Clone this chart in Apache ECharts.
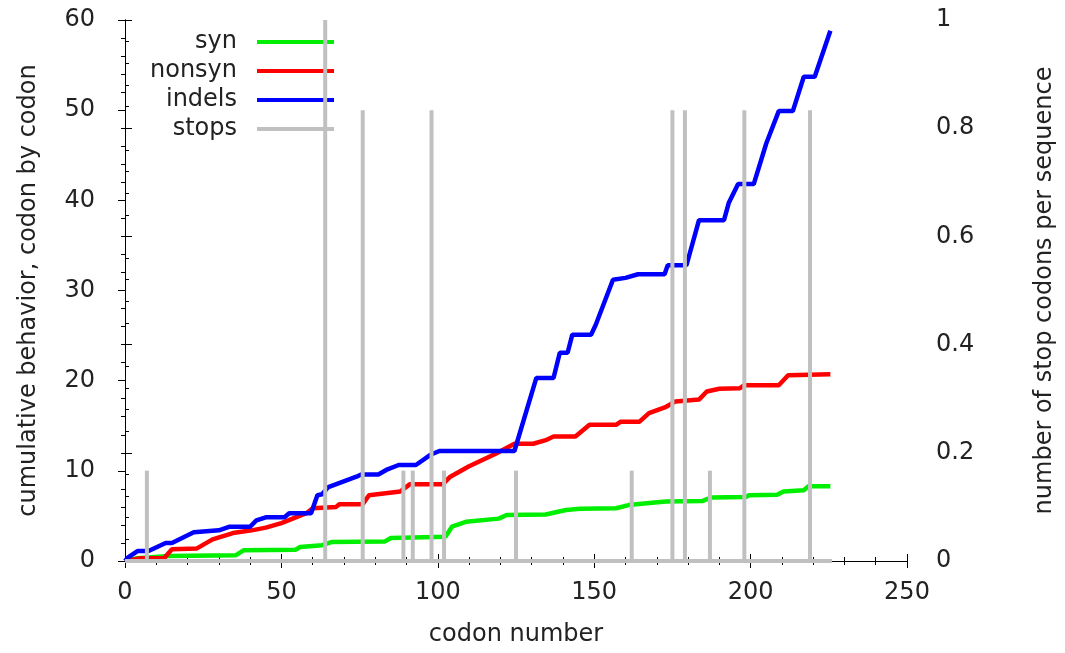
<!DOCTYPE html>
<html>
<head>
<meta charset="utf-8">
<script src="https://cdn.jsdelivr.net/npm/echarts@6/dist/echarts.min.js"></script>
<style>
  html, body { margin: 0; padding: 0; background: #fff; }
  #chart { width: 1065px; height: 653px; }
</style>
</head>
<body>
<div id="chart"></div>
<script>
// Cumulative counts along the alignment, as [codon, cumulative value] breakpoints
const syn = [
  [0, 0], [4, 0.3], [14, 0.55], [35.5, 0.65], [38, 1.2], [54.5, 1.25], [56, 1.55],
  [63, 1.75], [66, 2.1], [83, 2.15], [85, 2.55], [102.5, 2.7], [104.5, 3.8],
  [109, 4.35], [119.5, 4.7], [122, 5.1], [134.5, 5.15], [141, 5.65], [145.5, 5.8],
  [157, 5.85], [161, 6.2], [168.5, 6.45], [173, 6.6], [184.5, 6.65], [187.5, 7.05],
  [198.5, 7.1], [199.5, 7.3], [208.5, 7.35], [210.5, 7.7], [217, 7.85], [218.5, 8.3],
  [225.5, 8.3]
];
const nonsyn = [
  [0, 0], [5, 0.3], [12.5, 0.3], [15, 1.3], [23, 1.4], [28, 2.4], [34.5, 3.1],
  [40.5, 3.4], [45, 3.7], [50, 4.2], [58, 5.3], [60, 5.85], [67.5, 6.0], [68.5, 6.3],
  [76, 6.3], [78, 7.3], [88, 7.7], [91, 8.5], [101.5, 8.5], [104, 9.35], [110, 10.5],
  [118.5, 11.9], [124.5, 13.0], [130.5, 13.0], [134.5, 13.4], [137, 13.8], [144, 13.8],
  [148.5, 15.1], [157, 15.1], [158.5, 15.45], [164.5, 15.45], [167.5, 16.4],
  [173, 17.1], [176, 17.7], [183.5, 17.9], [186, 18.8], [190, 19.1], [196.5, 19.15],
  [198, 19.5], [209, 19.5], [212, 20.6], [225.5, 20.7]
];
const indels = [
  [0, 0], [1, 0.4], [4, 1.1], [7.5, 1.1], [13, 2.0], [15, 2.0], [22, 3.2], [30, 3.4],
  [33.5, 3.8], [40, 3.8], [42, 4.5], [45, 4.85], [51, 4.85], [52.5, 5.3], [59.5, 5.3],
  [61.5, 7.3], [63, 7.4], [65, 8.2], [74, 9.35], [75.5, 9.6], [81, 9.6], [83.5, 10.1],
  [87.5, 10.65], [93, 10.65], [97.5, 11.75], [100.5, 12.2], [124.5, 12.2],
  [131.5, 20.3], [137, 20.3], [139, 23.1], [141.5, 23.1], [143, 25.1], [149, 25.1],
  [150.5, 26.2], [156, 31.2], [160, 31.4], [164, 31.8], [172.5, 31.8], [173.5, 32.8],
  [179.5, 32.8], [183.5, 37.8], [191.5, 37.8], [193, 39.7], [196, 41.8], [201, 41.8],
  [205, 46.3], [209, 49.9], [213.5, 49.9], [217, 53.7], [220.5, 53.7], [225.5, 58.8]
];

// Stop codons: position and fraction of sequences carrying one
const stopCodons = [7, 64, 76, 89, 92, 98, 102, 125, 162, 175, 179, 187, 198, 219];
const stopFractions = [0.167, 1, 0.833, 0.167, 0.167, 0.833, 0.167, 0.167, 0.167,
                       0.833, 0.833, 0.167, 0.833, 0.833];
const lastCodon = 226;

const seriesNames = ['syn', 'nonsyn', 'indels', 'stops'];
const xTitle = 'codon number';
const yTitle = 'cumulative behavior, codon by codon';
const y2Title = 'number of stop codons per sequence';

const FONT = 'DejaVu Sans';
const FS = 24;
const ink = '#000';
const textColor = '#222';

const stopBars = stopCodons.map((c, i) => [c, stopFractions[i]]);

function axisBase(labelMargin) {
  return {
    axisLine: { show: true, lineStyle: { color: ink, width: 1 } },
    axisTick: { show: true, inside: false, length: 7, lineStyle: { color: ink } },
    minorTick: { show: true, splitNumber: 5, length: 4, lineStyle: { color: ink } },
    splitLine: { show: false },
    axisLabel: { color: textColor, fontFamily: FONT, fontSize: FS, margin: labelMargin },
    nameTextStyle: { color: textColor, fontFamily: FONT, fontSize: FS }
  };
}

const chart = echarts.init(document.getElementById('chart'), null, { renderer: 'canvas' });

chart.setOption({
  animation: false,
  backgroundColor: '#fff',
  grid: { left: 125, top: 20, right: 157, bottom: 92, containLabel: false },
  legend: {
    left: 150, top: 30, orient: 'vertical', align: 'right', padding: 0,
    itemGap: 5, itemWidth: 77, itemHeight: 4, selectedMode: false,
    data: seriesNames.map(n => ({ name: n, icon: 'rect' })),
    formatter: '{t|{name}}',
    textStyle: {
      rich: {
        t: { width: 118, align: 'right', padding: [0, 15, 0, 0], height: 24,
             fontFamily: FONT, fontSize: FS, color: textColor }
      }
    }
  },
  xAxis: [
    Object.assign(axisBase(20), {
      type: 'value', min: 0, max: 250, interval: 50, position: 'bottom',
      name: xTitle, nameLocation: 'middle', nameGap: 62
    }),
    Object.assign(axisBase(20), {
      type: 'value', min: 0, max: 250, interval: 50, position: 'top',
      axisLabel: { show: false }
    })
  ],
  yAxis: [
    Object.assign(axisBase(30), {
      type: 'value', min: 0, max: 60, interval: 10, position: 'left',
      name: yTitle, nameLocation: 'middle', nameRotate: 90, nameGap: 84
    }),
    Object.assign(axisBase(29), {
      type: 'value', min: 0, max: 1, interval: 0.2, position: 'right',
      name: y2Title, nameLocation: 'middle', nameRotate: 90, nameGap: 126
    })
  ],
  series: [
    { name: 'syn', type: 'line', data: syn, showSymbol: false, z: 3,
      color: '#00ee00', lineStyle: { width: 4.5, color: '#00ee00' } },
    { name: 'nonsyn', type: 'line', data: nonsyn, showSymbol: false, z: 3,
      color: '#ff0000', lineStyle: { width: 4.5, color: '#ff0000' } },
    { name: 'indels', type: 'line', data: indels, showSymbol: false, z: 3,
      color: '#0000ff', lineStyle: { width: 4.5, color: '#0000ff' } },
    { name: 'stops', type: 'bar', yAxisIndex: 1, data: stopBars, barWidth: 4, z: 5,
      color: '#c0c0c0', itemStyle: { color: '#c0c0c0' } },
    { name: 'stops', type: 'line', yAxisIndex: 1, data: [[0, 0], [lastCodon, 0]],
      showSymbol: false, clip: false, z: 5, color: '#c0c0c0',
      lineStyle: { width: 4, color: '#c0c0c0' } }
  ]
});
</script>
</body>
</html>
